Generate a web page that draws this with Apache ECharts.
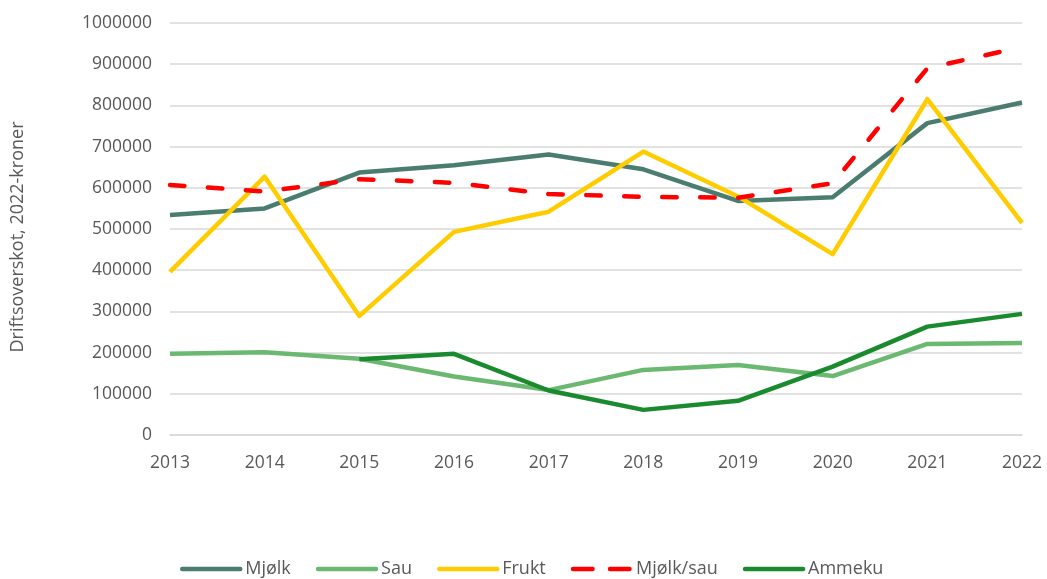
<!DOCTYPE html>
<html>
<head>
<meta charset="utf-8">
<script src="https://cdn.jsdelivr.net/npm/echarts@6/dist/echarts.min.js"></script>
<style>
html,body{margin:0;padding:0;background:#fff;}
#c{width:1047px;height:579px;}
</style>
</head>
<body>
<div id="c"></div>
<script>
const years = ['2013','2014','2015','2016','2017','2018','2019','2020','2021','2022'];
const mjolk = [534000, 550000, 637000, 655000, 681000, 645000, 568000, 577000, 757000, 807000];
const sau = [197000, 201000, 185000, 142000, 109000, 158000, 170000, 143000, 221000, 223000];
const frukt = [396000, 627000, 289000, 493000, 542000, 688000, 579000, 439000, 815000, 515000];
const mjolkSau = [607000, 591000, 621000, 612000, 585000, 578000, 576000, 611000, 890000, 942000];
const ammeku = [null, null, 184000, 197000, 108000, 61000, 83000, 166000, 263000, 294000];
const yAxisName = 'Driftsoverskot, 2022-kroner';

const font = 'Open Sans';
const txt = '#595959';
function line(name, data, color, dashed) {
  return {
    name: name, type: 'line', data: data, symbol: 'none', showSymbol: false,
    connectNulls: false,
    lineStyle: { color: color, width: 4.5, type: dashed ? [14.5, 23.5] : 'solid', cap: dashed ? 'round' : 'butt', join: 'round' },
    itemStyle: { color: color },
    emphasis: { disabled: true },
    animation: false
  };
}
const chart = echarts.init(document.getElementById('c'), null, { renderer: 'canvas' });
chart.setOption({
  animation: false,
  backgroundColor: '#ffffff',
  grid: { left: 170, right: 25, top: 23, bottom: 144, containLabel: false },
  legend: {
    left: 175, top: 555, itemWidth: 58, itemHeight: 14, itemGap: 25,
    itemStyle: { opacity: 0 },
    lineStyle: { width: 4.5, cap: 'round' },
    textStyle: { fontFamily: font, fontSize: 18, color: txt },
    data: ['Mjølk', 'Sau', 'Frukt',
      { name: 'Mjølk/sau', lineStyle: { width: 4.5, cap: 'round', type: [19.5, 17.5] } },
      'Ammeku']
  },
  xAxis: {
    type: 'category', data: years, boundaryGap: false,
    axisLine: { show: true, lineStyle: { color: '#D9D9D9', width: 1.5 } },
    axisTick: { show: false },
    axisLabel: { fontFamily: font, fontSize: 17.5, color: txt, margin: 19 },
    splitLine: { show: false }
  },
  yAxis: {
    type: 'value', min: 0, max: 1000000, interval: 100000,
    name: yAxisName, nameLocation: 'middle', nameGap: 143, nameRotate: 90,
    nameTextStyle: { fontFamily: font, fontSize: 18, color: txt, padding: [0, 16, 0, 0] },
    axisLine: { show: false }, axisTick: { show: false },
    axisLabel: { fontFamily: font, fontSize: 17.5, color: txt, margin: 18, formatter: function (v) { return String(v); } },
    splitLine: { lineStyle: { color: '#D9D9D9', width: 1.5 } }
  },
  series: [
    line('Mjølk', mjolk, '#4A7D70', false),
    line('Sau', sau, '#6BB870', false),
    line('Frukt', frukt, '#FFCC00', false),
    line('Mjølk/sau', mjolkSau, '#FF0000', true),
    line('Ammeku', ammeku, '#1A8A2E', false)
  ]
});
</script>
</body>
</html>
